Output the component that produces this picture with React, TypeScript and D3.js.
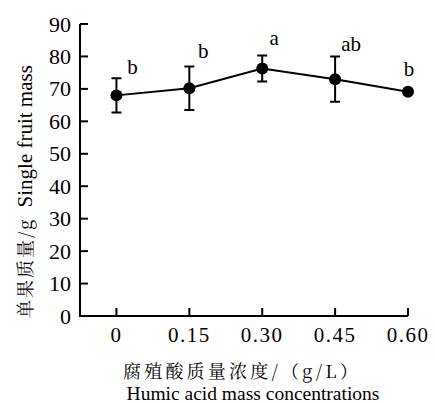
import React from 'react';
import * as d3 from 'd3';

// concentrations (g/L), single fruit mass (g), error bars, significance letters
const concentrations = ['0', '0.15', '0.30', '0.45', '0.60'];
const fruitMass = [68.0, 70.2, 76.3, 73.0, 69.1];
const fruitMassSd = [5.3, 6.7, 4.0, 7.0, 0.7];
const sigLetters = ['b', 'b', 'a', 'ab', 'b'];
const yTicks = [0, 10, 20, 30, 40, 50, 60, 70, 80, 90];

// hand nudges for the letters (dx from point, dy above error bar top)
const letterNudge = [
  [16, 4],
  [14, 9],
  [12, 10],
  [16, 5],
  [1, 14],
];

const serif = 'Liberation Serif';
const cjk = 'Noto Serif CJK SC, Noto Sans CJK SC';

const left = 80;
const right = 408;
const top = 24;
const bottom = 316;

const App = () => {
  const x = d3.scaleLinear().domain([-0.5, 4]).range([left, right]);
  const y = d3.scaleLinear().domain([0, 90]).range([bottom, top]);

  const line = d3.line<number>()
    .x((d, i) => x(i))
    .y(d => y(d));

  const cap = 5;

  return (
    <svg width={435} height={403} style={{ position: 'absolute', left: 0, top: 0, background: '#fff' }}>
      {/* axes */}
      <path d={`M${left},${top}V${bottom}H${right}`} fill="none" stroke="#000" strokeWidth={2} />
      {yTicks.map(t => (
        <g key={'y' + t}>
          <line x1={left} x2={left + 8} y1={y(t)} y2={y(t)} stroke="#000" strokeWidth={2} />
          <text x={71} y={y(t) + 7.5} textAnchor="end" fontSize={22} style={{ fontFamily: serif }}>{t}</text>
        </g>
      ))}
      {concentrations.map((c, i) => (
        <g key={'x' + c}>
          <line x1={x(i)} x2={x(i)} y1={bottom} y2={bottom - 8} stroke="#000" strokeWidth={2} />
          <text x={x(i)} y={342} textAnchor="middle" fontSize={21} letterSpacing={1.5} style={{ fontFamily: serif }}>{c}</text>
        </g>
      ))}

      {/* line */}
      <path d={line(fruitMass) || ''} fill="none" stroke="#000" strokeWidth={2} />

      {/* error bars */}
      {fruitMass.map((m, i) => {
        const cx = x(i);
        const y1 = y(m + fruitMassSd[i]);
        const y0 = y(m - fruitMassSd[i]);
        return (
          <path
            key={'e' + i}
            d={`M${cx},${y1}V${y0}M${cx - cap},${y1}H${cx + cap}M${cx - cap},${y0}H${cx + cap}`}
            fill="none"
            stroke="#000"
            strokeWidth={2}
          />
        );
      })}

      {/* points */}
      {fruitMass.map((m, i) => (
        <circle key={'p' + i} cx={x(i)} cy={y(m)} r={6} fill="#000" />
      ))}

      {/* significance letters */}
      {sigLetters.map((s, i) => (
        <text
          key={'s' + i}
          x={x(i) + letterNudge[i][0]}
          y={y(fruitMass[i] + fruitMassSd[i]) - letterNudge[i][1]}
          textAnchor="middle"
          fontSize={21}
          style={{ fontFamily: serif }}
        >
          {s}
        </text>
      ))}

      {/* x title */}
      <text x={242} y={378} textAnchor="middle" fontSize={18} letterSpacing={3.2} style={{ fontFamily: cjk }}>
        腐殖酸质量浓度/（g/L）
      </text>
      <text x={253} y={400} textAnchor="middle" fontSize={19.5} style={{ fontFamily: serif }}>
        Humic acid mass concentrations
      </text>

      {/* y title */}
      <text transform="translate(32,318) rotate(-90)" textAnchor="start">
        <tspan fontSize={18} letterSpacing={2} style={{ fontFamily: cjk }}>单果质量/g</tspan>
        <tspan dx={10} fontSize={21} style={{ fontFamily: serif }}>Single fruit mass</tspan>
      </text>
    </svg>
  );
};

export default App;
